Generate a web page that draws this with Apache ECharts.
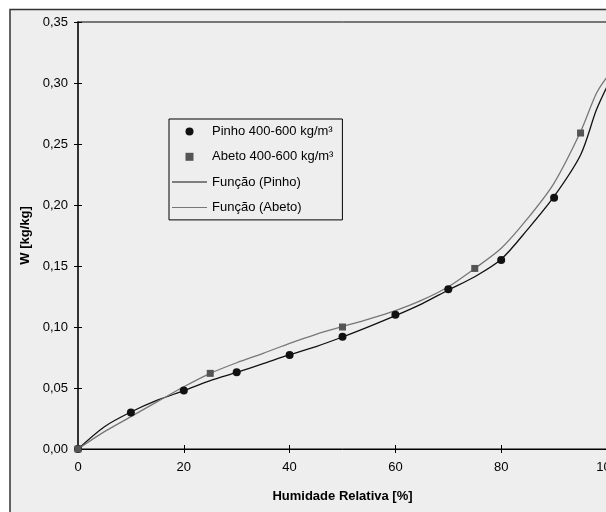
<!DOCTYPE html>
<html>
<head>
<meta charset="utf-8">
<script src="https://cdn.jsdelivr.net/npm/echarts@6/dist/echarts.min.js"></script>
<style>
  html, body { margin: 0; padding: 0; background: #fff; }
  #chart { width: 606px; height: 512px; }
</style>
</head>
<body>
<div id="chart"></div>
<script>
// medições (pontos)
var pinhoHum = [0, 10, 20, 30, 40, 50, 60, 70, 80, 90];
var pinhoW = [0, 0.030, 0.048, 0.063, 0.077, 0.092, 0.110, 0.131, 0.155, 0.206];
var abetoHum = [0, 25, 50, 75, 95];
var abetoW = [0, 0.062, 0.100, 0.148, 0.259];

// curvas
var fnHum = [0, 5, 10, 15, 20, 25, 30, 35, 40, 45, 50, 55, 60, 65, 70, 75, 80, 85, 90, 95, 98, 100];
var fnPinho = [0, 0.0183, 0.0303, 0.040, 0.0478, 0.056, 0.0628, 0.070, 0.0773, 0.084, 0.0918, 0.1003,
               0.1093, 0.119, 0.1303, 0.1412, 0.1555, 0.180, 0.207, 0.241, 0.278, 0.297];
var fnAbeto = [0, 0.0142, 0.0265, 0.0388, 0.051, 0.062, 0.0707, 0.0784, 0.0866, 0.094, 0.1003, 0.1065,
               0.1134, 0.122, 0.133, 0.148, 0.1645, 0.189, 0.218, 0.260, 0.2916, 0.305];

var seriesNames = ['Pinho 400-600 kg/m³', 'Abeto 400-600 kg/m³', 'Função (Pinho)', 'Função (Abeto)'];

function pairs(xs, ys) {
    var arr = [];
    for (var i = 0; i < xs.length; i++) {
        arr.push([xs[i], ys[i]]);
    }
    return arr;
}

var font = 'Liberation Sans';
// ícones da legenda: quadrado e traço fino
var squareIcon = 'path://M0,0h7v7h-7z';
var lineIcon = 'path://M0,0h35v1h-35z';

var chart = echarts.init(document.getElementById('chart'));

chart.setOption({
    animation: false,
    backgroundColor: '#fff',
    textStyle: { fontFamily: font },
    graphic: [{
        type: 'rect',
        z: -10,
        shape: { x: 10, y: 9.5, width: 700, height: 600 },
        style: { fill: '#eeeeee', stroke: '#333', lineWidth: 1.5 }
    }],
    grid: {
        left: 78,
        top: 22,
        width: 529,
        height: 427,
        outerBoundsMode: 'none',
        containLabel: false,
        show: true,
        backgroundColor: 'transparent',
        borderColor: '#000',
        borderWidth: 1
    },
    legend: {
        orient: 'vertical',
        left: 169,
        top: 119,
        padding: [6, 9, 6, 3],
        itemWidth: 35,
        itemHeight: 8,
        itemGap: 12.3,
        borderColor: '#000',
        borderWidth: 1,
        textStyle: { fontFamily: font, fontSize: 13, lineHeight: 12, color: '#000' },
        data: [
            { name: seriesNames[0], icon: 'circle' },
            { name: seriesNames[1], icon: squareIcon },
            { name: seriesNames[2], icon: lineIcon },
            { name: seriesNames[3], icon: lineIcon }
        ]
    },
    xAxis: [{
        type: 'value',
        min: 0,
        max: 100,
        interval: 20,
        name: 'Humidade Relativa [%]',
        nameLocation: 'middle',
        nameGap: 41,
        nameTextStyle: { fontFamily: font, fontSize: 13, fontWeight: 'bold', color: '#000' },
        splitLine: { show: false },
        axisLine: { lineStyle: { color: '#000', width: 1 } },
        axisTick: { length: 4, lineStyle: { color: '#000' } },
        axisLabel: { margin: 12, fontSize: 13, color: '#000', fontFamily: font }
    }, {
        type: 'value',
        position: 'bottom',
        min: 0,
        max: 100,
        interval: 20,
        splitLine: { show: false },
        axisLine: { show: false },
        axisTick: { inside: true, length: 4, lineStyle: { color: '#000' } },
        axisLabel: { show: false }
    }],
    yAxis: [{
        type: 'value',
        min: 0,
        max: 0.35,
        interval: 0.05,
        name: 'W [kg/kg]',
        nameLocation: 'middle',
        nameGap: 46,
        nameTextStyle: { fontFamily: font, fontSize: 13, fontWeight: 'bold', color: '#000' },
        splitLine: { show: false },
        axisLine: { lineStyle: { color: '#333', width: 2 } },
        axisTick: { length: 4, lineStyle: { color: '#000' } },
        axisLabel: {
            margin: 10, fontSize: 13, color: '#000', fontFamily: font,
            formatter: function (v) { return v.toFixed(2).replace('.', ','); }
        }
    }, {
        type: 'value',
        position: 'left',
        min: 0,
        max: 0.35,
        interval: 0.05,
        splitLine: { show: false },
        axisLine: { show: false },
        axisTick: { inside: true, length: 4, lineStyle: { color: '#000' } },
        axisLabel: { show: false }
    }],
    series: [{
        name: seriesNames[2],
        type: 'line',
        data: pairs(fnHum, fnPinho),
        symbol: 'none',
        smooth: 0.3,
        z: 2,
        itemStyle: { color: '#111' },
        lineStyle: { color: '#111', width: 1.3 }
    }, {
        name: seriesNames[3],
        type: 'line',
        data: pairs(fnHum, fnAbeto),
        symbol: 'none',
        smooth: 0.3,
        z: 2,
        itemStyle: { color: '#777' },
        lineStyle: { color: '#777', width: 1.3 }
    }, {
        name: seriesNames[0],
        type: 'scatter',
        data: pairs(pinhoHum, pinhoW),
        symbol: 'circle',
        symbolSize: 8,
        z: 3,
        itemStyle: { color: '#111', opacity: 1 }
    }, {
        name: seriesNames[1],
        type: 'scatter',
        data: pairs(abetoHum, abetoW),
        symbol: 'rect',
        symbolSize: 7,
        z: 4,
        itemStyle: { color: '#555', opacity: 1 }
    }]
});
</script>
</body>
</html>
